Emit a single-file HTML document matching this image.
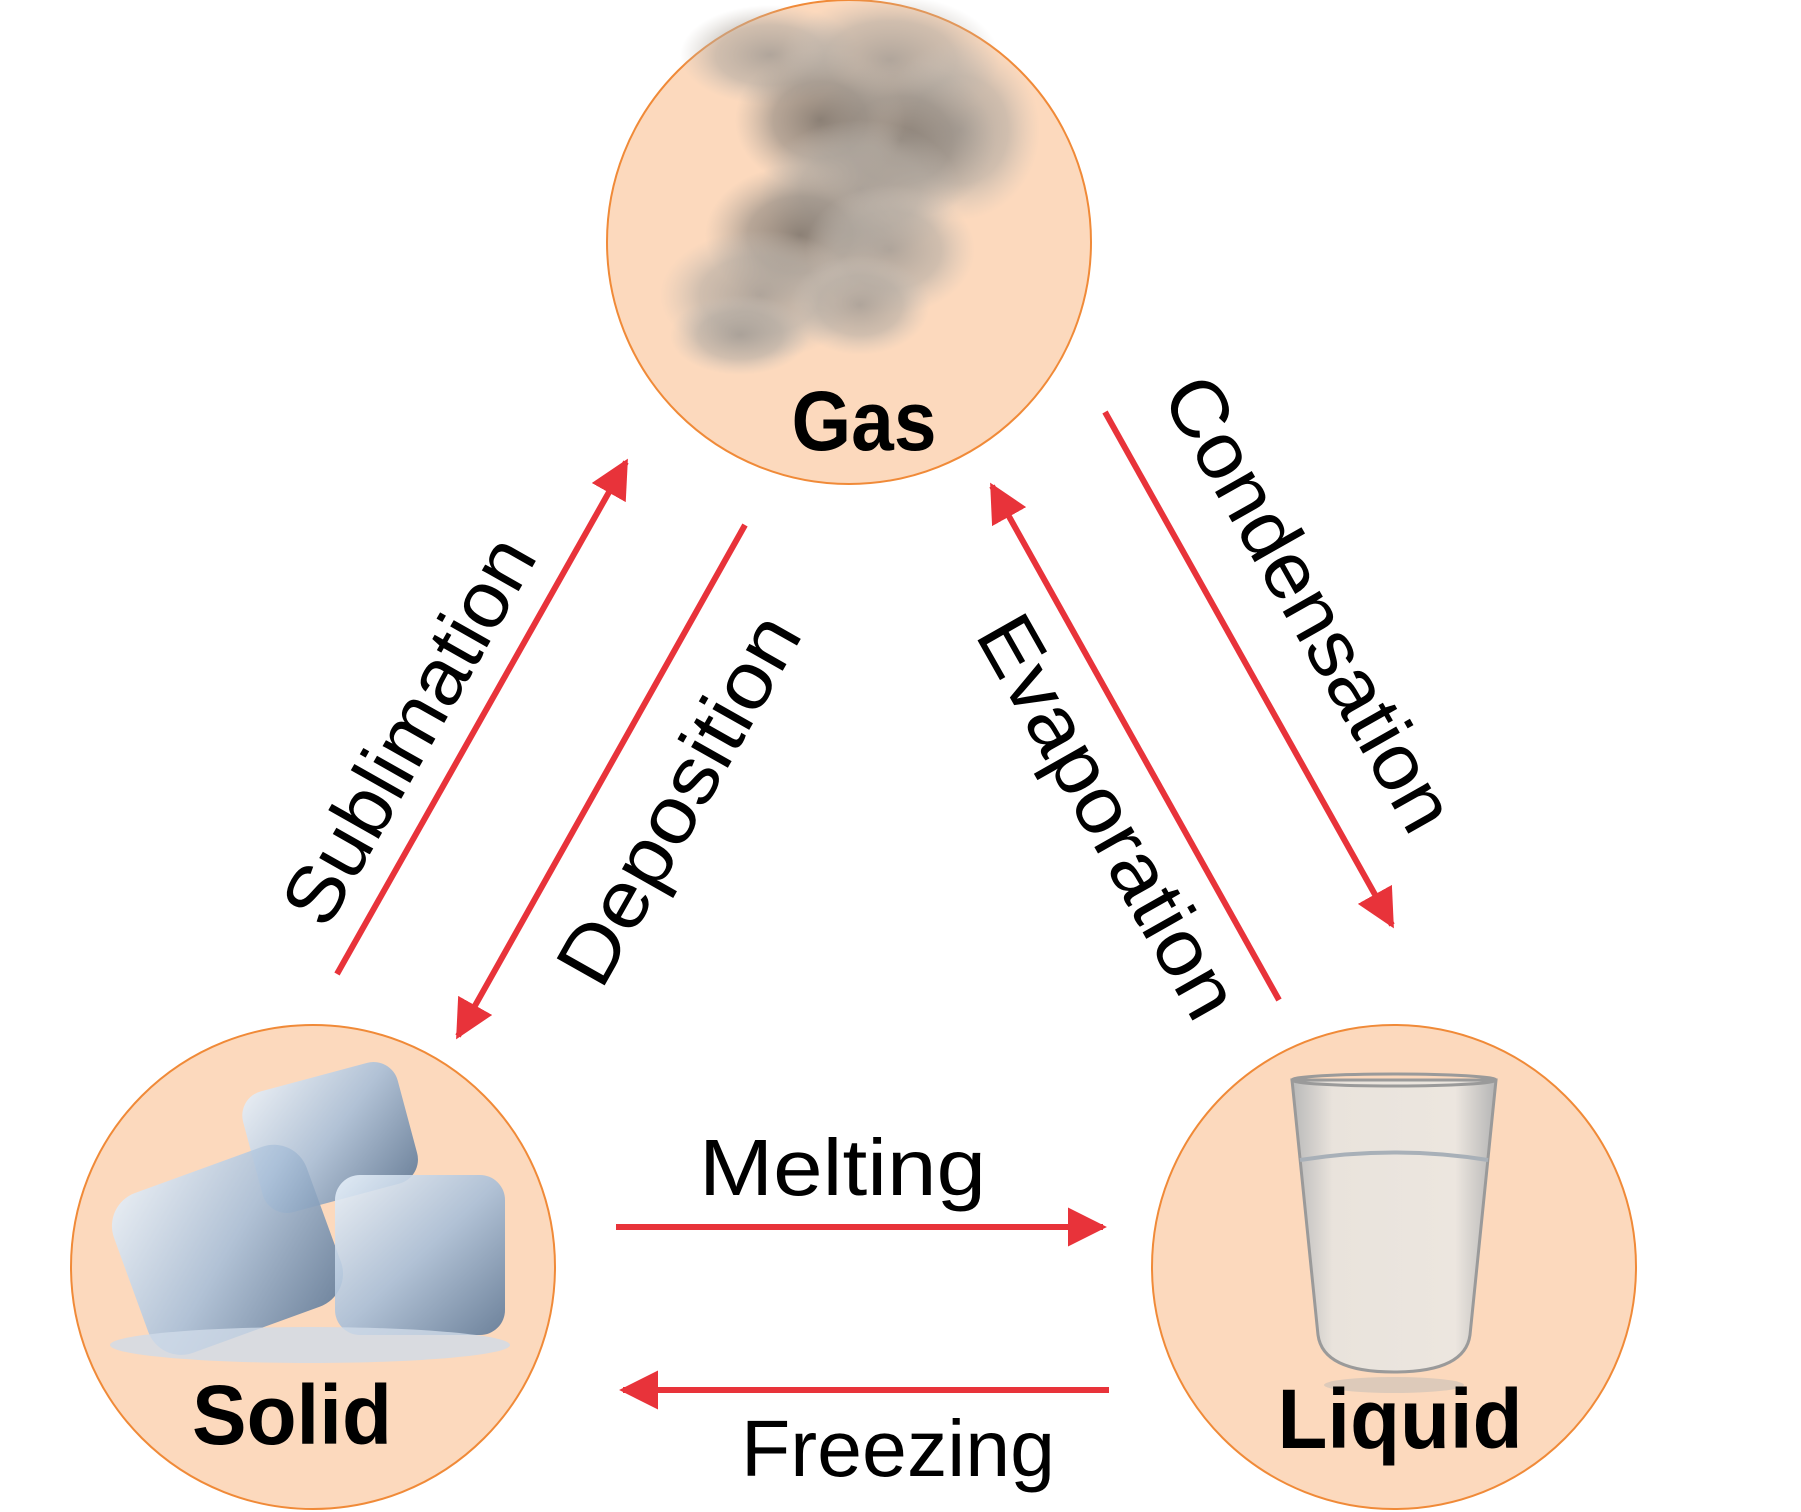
<!DOCTYPE html>
<html><head><meta charset="utf-8"><style>
html,body{margin:0;padding:0;background:#fff}
svg{display:block}
text{font-family:"Liberation Sans",sans-serif}
</style></head><body>
<svg width="1801" height="1512" viewBox="0 0 1801 1512" xmlns="http://www.w3.org/2000/svg">
<defs>
<radialGradient id="sm" cx="50%" cy="50%" r="50%">
<stop offset="0" stop-color="#7a726a" stop-opacity="0.85"/>
<stop offset="0.55" stop-color="#938b83" stop-opacity="0.65"/>
<stop offset="1" stop-color="#b0a89f" stop-opacity="0"/>
</radialGradient>
<radialGradient id="sm2" cx="50%" cy="50%" r="50%">
<stop offset="0" stop-color="#a39c95" stop-opacity="0.85"/>
<stop offset="0.6" stop-color="#b3aca4" stop-opacity="0.6"/>
<stop offset="1" stop-color="#c8c0b8" stop-opacity="0"/>
</radialGradient>
<linearGradient id="ice" x1="0" y1="0" x2="1" y2="1">
<stop offset="0" stop-color="#e8f1fa"/>
<stop offset="0.5" stop-color="#a9bfd8"/>
<stop offset="1" stop-color="#5d7897"/>
</linearGradient>
<linearGradient id="gl" x1="0" y1="0" x2="1" y2="0">
<stop offset="0" stop-color="#b9b9b9"/>
<stop offset="0.2" stop-color="#e9e3dc"/>
<stop offset="0.8" stop-color="#ece6df"/>
<stop offset="1" stop-color="#b5b5b5"/>
</linearGradient>
<marker id="ah" viewBox="0 0 10 10" refX="9" refY="5" markerWidth="6.5" markerHeight="6.5" markerUnits="strokeWidth" orient="auto">
<path d="M0,0 L10,5 L0,10 z" fill="#e8333a"/>
</marker>
</defs>

<circle cx="849" cy="242" r="242" fill="#fcd9bd" stroke="#f08a38" stroke-width="2"/>
<circle cx="313" cy="1267" r="242" fill="#fcd9bd" stroke="#f08a38" stroke-width="2"/>
<circle cx="1394" cy="1267" r="242" fill="#fcd9bd" stroke="#f08a38" stroke-width="2"/>

<g>
<ellipse cx="770" cy="55" rx="90" ry="50" fill="url(#sm2)"/>
<ellipse cx="890" cy="60" rx="110" ry="65" fill="url(#sm2)"/>
<ellipse cx="960" cy="130" rx="80" ry="90" fill="url(#sm2)"/>
<ellipse cx="900" cy="140" rx="95" ry="80" fill="url(#sm)"/>
<ellipse cx="820" cy="120" rx="85" ry="70" fill="url(#sm)"/>
<ellipse cx="860" cy="190" rx="100" ry="70" fill="url(#sm2)"/>
<ellipse cx="800" cy="235" rx="95" ry="70" fill="url(#sm)"/>
<ellipse cx="890" cy="250" rx="85" ry="65" fill="url(#sm2)"/>
<ellipse cx="760" cy="295" rx="100" ry="65" fill="url(#sm2)"/>
<ellipse cx="860" cy="305" rx="70" ry="50" fill="url(#sm2)"/>
<ellipse cx="740" cy="335" rx="70" ry="40" fill="url(#sm2)"/>
</g>

<g>
<rect x="250" y="1075" width="160" height="125" rx="25" fill="url(#ice)" opacity="0.9" transform="rotate(-15 330 1137)"/>
<rect x="125" y="1165" width="205" height="170" rx="35" fill="url(#ice)" opacity="0.9" transform="rotate(-20 227 1250)"/>
<rect x="335" y="1175" width="170" height="160" rx="25" fill="url(#ice)" opacity="0.9"/>
<ellipse cx="310" cy="1345" rx="200" ry="18" fill="#cfdbe8" opacity="0.8"/>
</g>

<g>
<path d="M1292,1080 L1496,1080 L1470,1335 Q1465,1372 1394,1372 Q1323,1372 1318,1335 Z" fill="url(#gl)" stroke="#9a9a9a" stroke-width="3"/>
<path d="M1300,1160 Q1394,1145 1488,1160" stroke="#a8b0b8" stroke-width="4" fill="none"/>
<ellipse cx="1394" cy="1080" rx="102" ry="6" fill="none" stroke="#9a9a9a" stroke-width="3"/>
<ellipse cx="1394" cy="1385" rx="70" ry="8" fill="#c8c0b8" opacity="0.6"/>
</g>

<text x="864" y="450" font-size="84" font-weight="bold" text-anchor="middle" textLength="145" lengthAdjust="spacingAndGlyphs">Gas</text>
<text x="292" y="1444" font-size="84" font-weight="bold" text-anchor="middle" textLength="200" lengthAdjust="spacingAndGlyphs">Solid</text>
<text x="1400" y="1448" font-size="84" font-weight="bold" text-anchor="middle" textLength="245" lengthAdjust="spacingAndGlyphs">Liquid</text>

<g stroke="#e8333a" stroke-width="6" fill="none" marker-end="url(#ah)">
<line x1="337" y1="974" x2="626" y2="462"/>
<line x1="745" y1="525" x2="458" y2="1036"/>
<line x1="1105" y1="412" x2="1392" y2="925"/>
<line x1="1279" y1="1000" x2="992" y2="486"/>
<line x1="616" y1="1227" x2="1103" y2="1227"/>
<line x1="1109" y1="1390" x2="623" y2="1390"/>
</g>

<g font-size="80" fill="#000">
<text x="699" y="1195" textLength="287" lengthAdjust="spacingAndGlyphs">Melting</text>
<text x="741" y="1476" textLength="314" lengthAdjust="spacingAndGlyphs">Freezing</text>
<text transform="translate(408,730) rotate(-60.5)" y="28" text-anchor="middle" textLength="431" lengthAdjust="spacingAndGlyphs">Sublimation</text>
<text transform="translate(678,799) rotate(-60.5)" y="28" text-anchor="middle" textLength="411" lengthAdjust="spacingAndGlyphs">Deposition</text>
<text transform="translate(1310,603) rotate(60.5)" y="28" text-anchor="middle" textLength="509" lengthAdjust="spacingAndGlyphs">Condensation</text>
<text transform="translate(1109,816) rotate(60.5)" y="28" text-anchor="middle" textLength="449" lengthAdjust="spacingAndGlyphs">Evaporation</text>
</g>
</svg>
</body></html>
